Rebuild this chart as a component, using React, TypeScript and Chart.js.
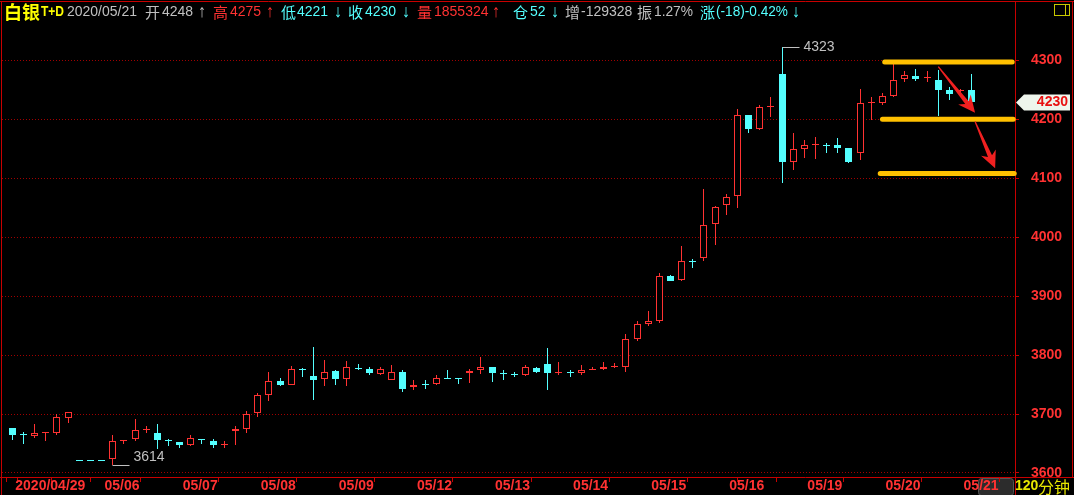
import React, { useEffect, useRef } from 'react';
import { Chart, registerables } from 'chart.js';

Chart.register(...registerables);

// ---------- data (120-minute bars, 白银T+D) ----------
const opens = [
  3677, 3666, 3662, 3668, 3668, 3694, 3622, 3622, 3622, 3623,
  3655, 3657, 3673, 3667, 3656, 3653, 3648, 3658, 3654, 3648,
  3671, 3674, 3701, 3733, 3756, 3750, 3777, 3765, 3759, 3773,
  3759, 3778, 3776, 3768, 3758, 3771, 3745, 3751, 3751, 3761,
  3761, 3770, 3775, 3780, 3769, 3768, 3767, 3778, 3785, 3770,
  3771, 3770, 3775, 3776, 3780, 3780, 3828, 3853, 3858, 3934,
  3927, 3959, 3964, 4022, 4054, 4070, 4207, 4184, 4221, 4277,
  4127, 4150, 4157, 4157, 4156, 4151, 4143, 4228, 4228, 4239,
  4268, 4273, 4270, 4266, 4250, 4248, 4249,
];
const highs = [
  3677, 3670, 3683, 3669, 3700, 3703, 3622, 3622, 3622, 3664,
  3656, 3692, 3679, 3683, 3657, 3653, 3664, 3658, 3658, 3655,
  3680, 3705, 3735, 3771, 3761, 3781, 3778, 3814, 3792, 3775,
  3790, 3785, 3780, 3780, 3783, 3775, 3758, 3758, 3766, 3775,
  3761, 3776, 3797, 3780, 3775, 3772, 3783, 3780, 3812, 3788,
  3775, 3783, 3780, 3788, 3787, 3836, 3857, 3875, 3940, 3935,
  3985, 3963, 4082, 4053, 4073, 4217, 4208, 4224, 4237, 4323,
  4176, 4165, 4170, 4159, 4168, 4151, 4251, 4238, 4245, 4293,
  4281, 4286, 4282, 4284, 4255, 4252, 4276,
];
const lows = [
  3656, 3650, 3660, 3655, 3664, 3685, 3622, 3622, 3622, 3614,
  3650, 3655, 3667, 3640, 3645, 3643, 3645, 3650, 3643, 3643,
  3647, 3668, 3695, 3722, 3748, 3749, 3762, 3723, 3748, 3749,
  3748, 3775, 3766, 3766, 3758, 3737, 3740, 3743, 3750, 3759,
  3751, 3753, 3768, 3754, 3758, 3763, 3765, 3770, 3741, 3766,
  3763, 3767, 3775, 3775, 3778, 3771, 3824, 3850, 3855, 3925,
  3925, 3947, 3960, 3986, 4038, 4050, 4177, 4181, 4203, 4092,
  4114, 4135, 4133, 4142, 4143, 4125, 4130, 4198, 4224, 4238,
  4263, 4264, 4263, 4206, 4232, 4240, 4221,
];
const closes = [
  3665, 3665, 3668, 3669, 3695, 3703, 3622, 3622, 3622, 3654,
  3656, 3673, 3674, 3656, 3655, 3648, 3659, 3656, 3648, 3650,
  3674, 3700, 3732, 3756, 3749, 3776, 3774, 3758, 3772, 3759,
  3779, 3777, 3770, 3776, 3771, 3743, 3749, 3750, 3761, 3760,
  3760, 3773, 3780, 3770, 3768, 3767, 3780, 3772, 3770, 3771,
  3770, 3774, 3776, 3780, 3782, 3827, 3853, 3857, 3934, 3926,
  3959, 3958, 4020, 4051, 4068, 4208, 4184, 4220, 4222, 4128,
  4150, 4156, 4158, 4156, 4151, 4128, 4227, 4229, 4239, 4266,
  4275, 4269, 4271, 4250, 4243, 4249, 4230,
];

const xTickSlots = [0, 1, 6, 8, 15, 22, 29, 36, 43, 50, 57, 64, 66, 71, 78, 85];
const xTickLabels = ['2020/04/29', '', '', '05/06', '05/07', '05/08', '05/09', '05/12', '05/13', '05/14', '05/15', '05/16', '', '05/19', '05/20', '05/21'];
const yTickValues = [3600, 3700, 3800, 3900, 4000, 4100, 4200, 4300];

// drawn annotations (data units)
const supportLevels = [4297, 4200, 4108];
const supportFrom = [78.2, 78.0, 77.8];
const supportTo = [89.63, 89.72, 89.81];
const arrowFrom = [[83.0, 4289], [86.3, 4196]];
const arrowTo = [[86.3, 4211], [88.1, 4117]];
const extremeIndex = [69, 9];
const extremeValue = [4323, 3614];
const lastClose = 4230;

// header texts
const headerTexts = [
  '白银', 'T+D', '2020/05/21', '开', '4248', '↑', '高', '4275', '↑', '低', '4221', '↓',
  '收', '4230', '↓', '量', '1855324', '↑', '仓', '52', '↓', '增', '-129328', '振', '1.27%',
  '涨', '(-18)-0.42%', '↓',
];
const periodLabel = ['120', '分钟'];

// ---------- styles ----------
const RED = '#ff3232';
const CYAN = '#54ffff';
const GRAY = '#c0c0c0';
const YELLOW = '#ffff00';
const FRAME = '#c80000';
const GRID = '#a00000';
const ORANGE = '#ffc000';
const ARROW = '#f02020';
const NUM = '"Liberation Sans", Arial, sans-serif';
const CJK = '"Noto Sans CJK SC", "Noto Sans CJK JP", sans-serif';
const ARW = `18px ${NUM}`;

const X_MIN = -0.923;
const X_MAX = 89.88;
const Y_MIN = 3593.2;
const Y_MAX = 4361.5;

// header layout: [x, color, font, maxWidth]
const headerLayout: [number, string, string, number?][] = [
  [4, YELLOW, `bold 18px ${CJK}`, 37],
  [41, YELLOW, `bold 14px ${NUM}`, 23],
  [67, GRAY, `14px ${NUM}`, 70],
  [145, GRAY, `15px ${CJK}`],
  [162, GRAY, `14px ${NUM}`],
  [198, GRAY, ARW, 8],
  [213, RED, `15px ${CJK}`],
  [230, RED, `14px ${NUM}`],
  [266, RED, ARW, 8],
  [281, CYAN, `15px ${CJK}`],
  [297, CYAN, `14px ${NUM}`],
  [334, CYAN, ARW, 8],
  [348, CYAN, `15px ${CJK}`],
  [365, CYAN, `14px ${NUM}`],
  [402, CYAN, ARW, 8],
  [417, RED, `15px ${CJK}`],
  [434, RED, `14px ${NUM}`],
  [492, RED, ARW, 8],
  [513, CYAN, `15px ${CJK}`],
  [530, CYAN, `14px ${NUM}`],
  [551, CYAN, ARW, 8],
  [565, GRAY, `15px ${CJK}`],
  [581, GRAY, `14px ${NUM}`],
  [637, GRAY, `15px ${CJK}`],
  [654, GRAY, `14px ${NUM}`, 39],
  [700, CYAN, `15px ${CJK}`],
  [716, CYAN, `14px ${NUM}`, 72],
  [792, CYAN, ARW, 8],
];

function drawArrow(ctx: CanvasRenderingContext2D, x0: number, y0: number, x1: number, y1: number) {
  const dx = x1 - x0, dy = y1 - y0;
  const L = Math.hypot(dx, dy);
  const ux = dx / L, uy = dy / L;
  const nx = -uy, ny = ux;
  const headLen = 17, headHalf = 8, notch = 4;
  const p = (d: number, w: number) => [x0 + ux * d + nx * w, y0 + uy * d + ny * w];
  const pts = [
    p(0, 0.6), p(L - headLen + notch, 2.2), p(L - headLen, headHalf), [x1, y1],
    p(L - headLen, -headHalf), p(L - headLen + notch, -2.2), p(0, -0.6),
  ];
  ctx.beginPath();
  ctx.moveTo(pts[0][0], pts[0][1]);
  for (let i = 1; i < pts.length; i++) ctx.lineTo(pts[i][0], pts[i][1]);
  ctx.closePath();
  ctx.fillStyle = ARROW;
  ctx.fill();
}

const overlay = {
  id: 'overlay',
  afterDatasetsUpdate(chart: any) {
    chart.data.datasets.forEach((ds: any, di: number) => {
      if (ds.type !== 'bar') return;
      const meta = chart.getDatasetMeta(di);
      meta.data.forEach((el: any) => {
        el.x = Math.floor(el.x) + 0.5;
        const y = Math.round(el.y);
        let b = Math.round(el.base);
        if (Math.abs(b - y) < 1) b = y + 1;
        el.y = y;
        el.base = b;
      });
    });
  },
  beforeDraw(chart: any) {
    const ctx: CanvasRenderingContext2D = chart.ctx;
    ctx.save();
    // grey scroll box under the last date label
    ctx.beginPath();
    ctx.roundRect(978.5, 478.5, 35, 17, 3);
    ctx.fillStyle = '#2c2c2c';
    ctx.fill();
    ctx.strokeStyle = '#555555';
    ctx.lineWidth = 1;
    ctx.stroke();
    // frame
    ctx.strokeStyle = FRAME;
    ctx.lineWidth = 1;
    const seg = (a: number, b: number, c: number, d: number) => {
      ctx.beginPath(); ctx.moveTo(a, b); ctx.lineTo(c, d); ctx.stroke();
    };
    seg(0, 1.5, 1074, 1.5);
    seg(1.5, 1, 1.5, 495);
    seg(1015.5, 1, 1015.5, 495);
    seg(1072.5, 1, 1072.5, 477);
    seg(0, 477.5, 1074, 477.5);
    ctx.restore();
  },
  afterDraw(chart: any) {
    const ctx: CanvasRenderingContext2D = chart.ctx;
    const xs = chart.scales.x, ys = chart.scales.y;
    ctx.save();
    ctx.textBaseline = 'middle';
    ctx.textAlign = 'left';

    // header
    headerTexts.forEach((t, i) => {
      const [x, color, font, w] = headerLayout[i];
      ctx.font = font;
      ctx.fillStyle = color;
      if (w) ctx.fillText(t, x, 12.5, w); else ctx.fillText(t, x, 12.5);
    });
    // small window icon top-right
    ctx.strokeStyle = '#c8c800';
    ctx.lineWidth = 1;
    ctx.strokeRect(1054.5, 4.5, 15, 11);
    ctx.beginPath(); ctx.moveTo(1065.5, 4.5); ctx.lineTo(1065.5, 15.5); ctx.stroke();

    // extreme labels
    ctx.strokeStyle = GRAY;
    ctx.fillStyle = GRAY;
    ctx.font = `14px ${NUM}`;
    extremeIndex.forEach((ix, k) => {
      const x = Math.floor(xs.getPixelForValue(ix)) + 0.5;
      const y = Math.round(ys.getPixelForValue(extremeValue[k])) + 0.5;
      ctx.beginPath(); ctx.moveTo(x, y); ctx.lineTo(x + 17, y); ctx.stroke();
      const ty = k === 0 ? y : y - 8;
      ctx.fillText(String(extremeValue[k]), x + 21, ty);
    });

    // red arrows
    arrowFrom.forEach((f, k) => {
      const t = arrowTo[k];
      drawArrow(ctx, xs.getPixelForValue(f[0]), ys.getPixelForValue(f[1]),
        xs.getPixelForValue(t[0]), ys.getPixelForValue(t[1]));
    });

    // last price tag
    const py = Math.round(ys.getPixelForValue(lastClose));
    ctx.beginPath();
    ctx.moveTo(1016, py + 0.5);
    ctx.lineTo(1024, py - 7.5);
    ctx.lineTo(1070, py - 7.5);
    ctx.lineTo(1070, py + 8.5);
    ctx.lineTo(1024, py + 8.5);
    ctx.closePath();
    ctx.fillStyle = '#eef5ec';
    ctx.fill();
    ctx.fillStyle = '#e81010';
    ctx.font = `bold 14px ${NUM}`;
    ctx.textAlign = 'right';
    ctx.fillText(String(lastClose), 1068, py + 0.5);

    // period label bottom-right
    ctx.textAlign = 'left';
    ctx.fillStyle = '#e6e600';
    ctx.font = `bold 14px ${NUM}`;
    ctx.fillText(periodLabel[0], 1015, 486.5);
    ctx.font = `16px ${CJK}`;
    ctx.fillText(periodLabel[1], 1038, 486.5);
    ctx.restore();
  },
};

export default function App() {
  const ref = useRef<HTMLCanvasElement>(null);
  useEffect(() => {
    document.body.style.margin = '0';
    document.body.style.background = '#000';
    const canvas = ref.current as HTMLCanvasElement;
    const idx = opens.map((_, i) => i);
    const up = idx.map((i) => closes[i] > opens[i]);

    const chart = new Chart(canvas, {
      type: 'bar',
      data: {
        datasets: [
          {
            type: 'bar',
            label: 'wick',
            data: idx.map((i) => ({ x: i, y: [lows[i], highs[i]] })) as any,
            backgroundColor: idx.map((i) => (up[i] ? RED : CYAN)),
            borderWidth: 0,
            barThickness: 1,
            grouped: false,
            order: 2,
            inflateAmount: 0,
          } as any,
          {
            type: 'bar',
            label: 'body',
            data: idx.map((i) => ({ x: i, y: [opens[i], closes[i]] })) as any,
            backgroundColor: idx.map((i) => (up[i] ? '#000000' : CYAN)),
            borderColor: idx.map((i) => (up[i] ? RED : CYAN)),
            borderWidth: 1,
            borderSkipped: false,
            barThickness: 7,
            grouped: false,
            order: 1,
            inflateAmount: 0,
          } as any,
          ...supportLevels.map((lv, k) => ({
            type: 'line',
            label: 'level' + k,
            data: [{ x: supportFrom[k], y: lv }, { x: supportTo[k], y: lv }],
            borderColor: ORANGE,
            borderWidth: 5,
            borderCapStyle: 'round',
            pointRadius: 0,
            tension: 0,
            clip: false,
            order: 0,
          } as any)),
        ],
      },
      options: {
        responsive: false,
        animation: false,
        devicePixelRatio: 1,
        events: [],
        layout: { padding: { top: 24, left: 2, right: 0, bottom: 0 } },
        plugins: { legend: { display: false }, tooltip: { enabled: false } },
        scales: {
          x: {
            type: 'linear',
            min: X_MIN,
            max: X_MAX,
            offset: false,
            bounds: 'data',
            afterBuildTicks: (s: any) => { s.ticks = xTickSlots.map((v) => ({ value: v })); },
            afterFit: (s: any) => { s.height = 18; s.paddingLeft = 0; s.paddingRight = 0; },
            grid: { drawOnChartArea: false, drawTicks: true, tickLength: 5, tickColor: FRAME, color: FRAME, lineWidth: 1 },
            border: { display: false },
            ticks: {
              autoSkip: false,
              maxRotation: 0,
              minRotation: 0,
              align: 'start',
              labelOffset: 3,
              padding: -3,
              color: RED,
              font: { family: NUM, size: 14, weight: 'bold', lineHeight: 1 },
              callback: (v: any) => {
                const k = xTickSlots.indexOf(Number(v));
                return k >= 0 ? xTickLabels[k] : '';
              },
            },
          },
          y: {
            type: 'linear',
            position: 'right',
            min: Y_MIN,
            max: Y_MAX,
            bounds: 'data',
            afterBuildTicks: (s: any) => { s.ticks = yTickValues.map((v) => ({ value: v })); },
            afterFit: (s: any) => { s.width = 59; s.paddingTop = 0; s.paddingBottom = 0; },
            grid: { color: GRID, lineWidth: 1, drawTicks: true, tickLength: 4, tickColor: FRAME },
            border: { display: false, dash: [1, 2] },
            ticks: {
              padding: 12,
              color: RED,
              font: { family: NUM, size: 14, weight: 'bold', lineHeight: 1 },
              callback: (v: any) => String(v),
            },
          },
        },
      } as any,
      plugins: [overlay as any],
    });
    return () => chart.destroy();
  }, []);

  return (
    <div style={{ width: 1074, height: 495, background: '#000', position: 'relative', overflow: 'hidden' }}>
      <canvas ref={ref} width={1074} height={495} style={{ display: 'block' }} />
    </div>
  );
}
